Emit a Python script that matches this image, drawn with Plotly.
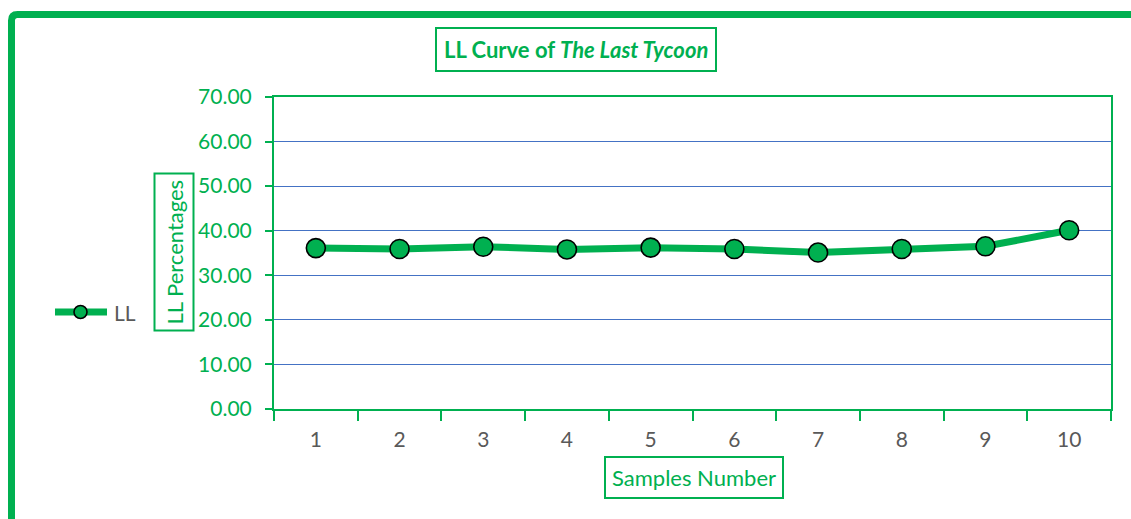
import plotly.graph_objects as go

# Samples and LL percentages
samples = ["1", "2", "3", "4", "5", "6", "7", "8", "9", "10"]
ll_values = [36.1, 35.9, 36.4, 35.8, 36.2, 35.9, 35.1, 35.9, 36.5, 40.1]
y_ticks = [0, 10, 20, 30, 40, 50, 60, 70]

GREEN = "#00B050"
GRID = "#4472C4"
GRAY = "#595959"
FONT = "Lato"

W, H = 1131, 519
L, R, T, B = 274, 20, 97, 110
PW, PH = W - L - R, H - T - B


def px(x):
    return (x - L) / PW


def py(y):
    return (H - B - y) / PH


fig = go.Figure()
fig.add_trace(go.Scatter(
    x=samples, y=ll_values, name="LL", mode="lines+markers",
    line=dict(color=GREEN, width=7),
    marker=dict(size=19, color=GREEN, line=dict(color="black", width=1.6)),
    showlegend=False,
))

fig.update_layout(
    width=W, height=H,
    margin=dict(l=L, r=R, t=T, b=B),
    paper_bgcolor="white", plot_bgcolor="white",
    font=dict(family=FONT, size=21, color=GREEN),
    xaxis=dict(
        type="category", range=[-0.5, len(samples) - 0.5],
        tickson="boundaries", ticks="outside", ticklen=10,
        tickcolor=GREEN, tickwidth=2, showgrid=False,
        showline=True, linecolor=GREEN, linewidth=2, mirror=True,
        tickfont=dict(color=GRAY, size=21, family=FONT),
        ticklabelstandoff=11,
    ),
    yaxis=dict(
        range=[0, 70], tickvals=y_ticks, tickformat=".2f",
        ticks="outside", ticklen=7, tickcolor=GREEN, tickwidth=2,
        showgrid=True, gridcolor=GRID, gridwidth=1.3,
        showline=True, linecolor=GREEN, linewidth=2, mirror=True,
        tickfont=dict(color=GREEN, size=21, family=FONT), zeroline=False,
        ticklabelstandoff=9,
    ),
)

# Boxed title and axis titles
box = dict(xref="paper", yref="paper", showarrow=False, xanchor="center",
           yanchor="middle", bordercolor=GREEN, borderwidth=2,
           bgcolor="white")
fig.add_annotation(
    x=px(575.5), y=py(49.5),
    text="<b>LL Curve of <i>The Last Tycoon</i></b>",
    font=dict(size=22, color=GREEN, family=FONT), borderpad=7, **box,
)
fig.add_annotation(
    x=px(174), y=py(252.5), text="LL Percentages", textangle=-90,
    font=dict(size=22, color=GREEN, family=FONT), borderpad=5, **box,
)
fig.add_annotation(
    x=px(694), y=py(477), text="Samples Number",
    font=dict(size=22, color=GREEN, family=FONT), borderpad=6, **box,
)

# Legend key: thick line with a circle marker, then the series name
fig.add_shape(type="line", xref="paper", yref="paper",
              x0=px(55), x1=px(107), y0=py(312), y1=py(312),
              line=dict(color=GREEN, width=7))
fig.add_shape(type="circle", xref="paper", yref="paper",
              x0=px(74), x1=px(87), y0=py(318.5), y1=py(305.5),
              fillcolor=GREEN, line=dict(color="black", width=1.6))
fig.add_annotation(x=px(112), y=py(312), xref="paper", yref="paper",
                   showarrow=False, xanchor="left", yanchor="middle",
                   text="LL", font=dict(size=21, color=GRAY, family=FONT))

# Thick outer frame running off the right and bottom edges
x0, y0, x1, y1 = px(11.5), py(14.5), px(1145), py(540)
rx, ry = 6 / PW, 6 / PH
fig.add_shape(
    type="path", xref="paper", yref="paper",
    path=(f"M {x0},{y1} L {x0},{y0 - ry} Q {x0},{y0} {x0 + rx},{y0} "
          f"L {x1},{y0}"),
    line=dict(color=GREEN, width=7),
)

fig.write_html("out.html")
